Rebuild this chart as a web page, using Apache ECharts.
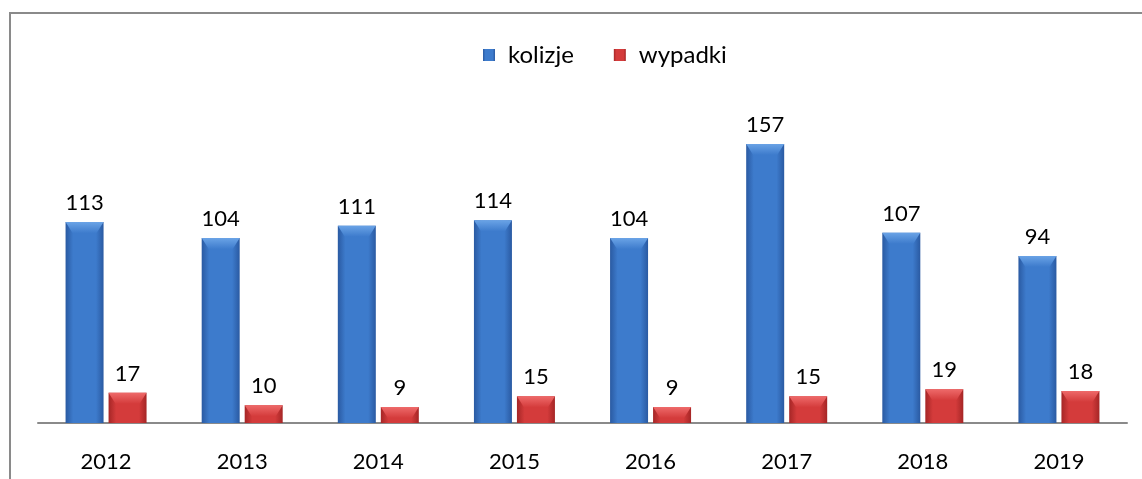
<!DOCTYPE html>
<html>
<head>
<meta charset="utf-8">
<script src="https://cdn.jsdelivr.net/npm/echarts@6/dist/echarts.min.js"></script>
<style>html,body{margin:0;padding:0;background:#fff;}#c{width:1142px;height:479px;}</style>
</head>
<body>
<div id="c"></div>
<script>
const categories = ['2012','2013','2014','2015','2016','2017','2018','2019'];
const kolizje = [113,104,111,114,104,157,107,94];
const wypadki = [17,10,9,15,9,15,19,18];
const seriesNames = ['kolizje','wypadki'];

const FONT = 'Lato, "Open Sans", sans-serif';
const BAR_W = 38, BAR_GAP = 5;
function grad(edge, mid){
  return new echarts.graphic.LinearGradient(0,0,1,0,[
    {offset:0,color:edge},{offset:0.2,color:mid},{offset:0.8,color:mid},{offset:1,color:edge}
  ]);
}
function bevelSeries(values, sign, light, mid){
  return {
    type:'custom', silent:true, z:5, legendHoverLink:false,
    data: values.map((v,i)=>[i,v]),
    renderItem:function(params, api){
      const top = api.coord([api.value(0), api.value(1)]);
      const cx = top[0] + sign*(BAR_W+BAR_GAP)/2;
      const x0 = cx - BAR_W/2, x1 = cx + BAR_W/2, y0 = top[1];
      const h = 11, inset = 7;
      return {type:'polygon', shape:{points:[[x0,y0],[x1,y0],[x1-inset,y0+h],[x0+inset,y0+h]]},
        style:{fill:new echarts.graphic.LinearGradient(0,0,0,1,[{offset:0,color:light},{offset:1,color:mid}])}};
    }
  };
}
const chart = echarts.init(document.getElementById('c'));
chart.setOption({
  animation:false,
  backgroundColor:'#fff',
  graphic:[{type:'polyline',shape:{points:[[10,479],[10,13],[1142,13]]},style:{stroke:'#8a8a8a',lineWidth:2,fill:null}}],
  legend:{
    top:38,left:478,itemWidth:12,itemHeight:12,itemGap:40,icon:'rect',
    textStyle:{fontFamily:FONT,fontSize:24,color:'#000',padding:[0,0,0,8]},
    data:seriesNames
  },
  grid:{left:38,right:15,top:103,bottom:56},
  xAxis:{type:'category',data:categories,
    axisLine:{lineStyle:{color:'#8a8a8a',width:2}},axisTick:{show:false},
    axisLabel:{fontFamily:FONT,fontSize:22,color:'#000',margin:28}},
  yAxis:{type:'value',min:0,max:180,show:false,splitLine:{show:false}},
  series:[
    {name:seriesNames[0],type:'bar',data:kolizje,barWidth:BAR_W,barGap:(BAR_GAP/BAR_W*100)+'%',
     itemStyle:{color:grad('#2a5aa2','#3d7bcc')},
     label:{show:true,position:'top',distance:8,fontFamily:FONT,fontSize:22,color:'#000'}},
    {name:seriesNames[1],type:'bar',data:wypadki,barWidth:BAR_W,
     itemStyle:{color:grad('#a52626','#d43b3b')},
     label:{show:true,position:'top',distance:8,fontFamily:FONT,fontSize:22,color:'#000'}},
    bevelSeries(kolizje,-1,'#6aa3e6','#3d7bcc'),
    bevelSeries(wypadki,1,'#ee6a6a','#d43b3b')
  ]
});
</script>
</body>
</html>
